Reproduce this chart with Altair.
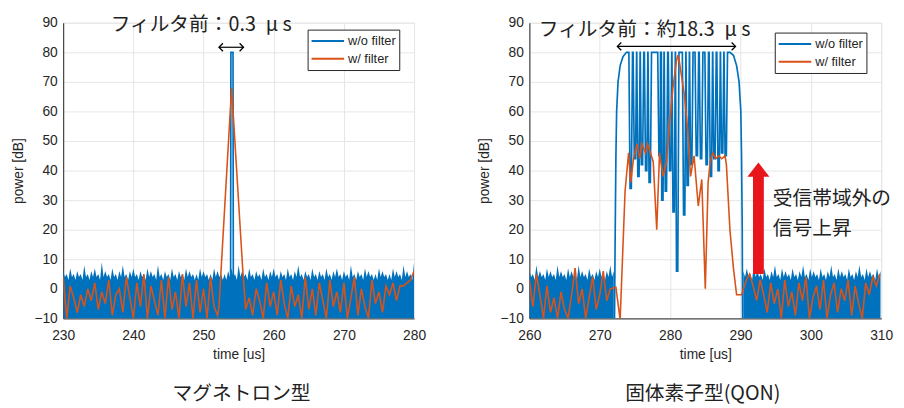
import altair as alt
import pandas as pd

SERIES = ["w/o filter", "w/ filter"]
COLORS = ["#0072BD", "#D95319"]
AXIS_FONT = "Liberation Sans"
JP_FONT = "Noto Sans CJK JP"
INK = "#262626"
FLOOR = -10

# ---------------- left panel : magnetron ----------------
L_XDOM = [230, 280]
# upper edge of the dense blue noise band (w/o filter), 0.25 us apart
BL_T0, BL_DT = 230.0, 0.25
BL_TOP = [
    6, 4, 5, 3, 7, 4, 5, 3, 6, 4, 5, 3, 8, 4, 5, 3, 6, 4, 7, 4,
    5, 3, 9, 4, 6, 4, 5, 3, 7, 4, 5, 3, 6, 4, 8, 4, 5, 3, 6, 4,
    7, 4, 5, 3, 6, 4, 5, 3, 7, 4, 6, 4, 5, 3, 8, 4, 5, 3, 6, 4,
    5, 3, 7, 4, 5, 3, 6, 4, 5, 3, 7, 4, 6, 4, 5, 3, 5, 3, 7, 4,
    6, 4, 5, 3, 5, 3, 7, 4, 6, 4, 5, 3, 5, 3, 6, 4, 7, 4, 5, 3,
    8, 4, 6, 4, 5, 3, 7, 4, 5, 3, 6, 4, 5, 3, 7, 4, 5, 3, 6, 4,
    7, 4, 5, 3, 6, 4, 5, 3, 7, 4, 5, 3, 6, 4, 8, 4, 5, 3, 6, 4,
    5, 3, 7, 4, 5, 3, 6, 4, 5, 3, 7, 4, 5, 3, 6, 4, 7, 4, 5, 3,
    6, 4, 5, 3, 8, 4, 5, 3, 6, 4, 5, 3, 7, 4, 6, 4, 5, 3, 5, 3,
    7, 4, 6, 4, 5, 3, 5, 3, 7, 4, 6, 4, 5, 3, 8, 4, 6, 4, 5, 3,
    9,
]
BL_PULSE_T = [253.85, 253.9, 254.2, 254.25]
BL_PULSE_V = [-10, 80, 80, -10]

OL_T0, OL_DT = 230.0, 0.5
OL_NOISE = [
    4, -10, 1, -3, -8, -2, -6, 0, -4, 2, -7, -1, -5, 3, -9, -2, 0, -8, 4, -3,
    -10, 2, -6, 5, -10, 1, -4, -9, 3, -10, 4, -7, -1, -10, 5, -6, 2, -10, 3, -8,
    0, -10, 4, -6, -9, -5, -7, -2, -10, 1, -5, -1, -7, -3, -9, 0, -4, -10, 2, -6,
    -1, -9, 3, -5, -10, 1, -6, -2, -10, 4, -7, 0, -9, 2, -4, -10, 3, -6, -1, -8,
    2, -10, -3, 4, -9, 0, -6, -10, 3, -5, -1, -8, 1, -2, 2, -4, 1, 1, 2, 3,
    6,
]
OL_PULSE_T = [252.2, 254.0, 255.6]
OL_PULSE_V = [-6, 68, 6]

# ---------------- right panel : solid state (QON) ----------------
R_XDOM = [260, 310]
BR_DT = 0.25
BR1_T0 = 260.0
BR1_TOP = [
    6, 4, 5, 3, 8, 4, 6, 4, 5, 3, 7, 4, 6, 4, 5, 3, 8, 4, 6, 4,
    5, 3, 7, 4, 6, 4, 5, 3, 8, 4, 6, 4, 5, 3, 7, 4, 5, 3, 6, 4,
    7, 4, 5, 3, 6, 4, 8, 4, 6,
]
BR2_T0 = 290.4
BR2_TOP = [
    6, 4, 7, 4, 5, 3, 8, 4, 6, 4, 5, 3, 7, 4, 5, 3, 6, 4, 8, 4,
    5, 3, 7, 4, 6, 4, 5, 3, 7, 4, 5, 3, 6, 4, 8, 4, 5, 3, 7, 4,
    6, 4, 5, 3, 7, 4, 5, 3, 6, 4, 8, 4, 5, 3, 7, 4, 6, 4, 5, 3,
    7, 4, 5, 3, 6, 4, 8, 4, 5, 3, 7, 4, 6, 4, 5, 3, 7, 4, 6,
]
BR_RISE_T = [272.1, 272.2, 272.3, 272.4, 272.6, 272.9, 273.3, 273.8]
BR_RISE_V = [-10, 20, 45, 60, 70, 75.5, 78.5, 80]
BR_FALL_T = [288.5, 289.0, 289.45, 289.8, 290.05, 290.15, 290.25, 290.3]
BR_FALL_V = [80, 79, 75.5, 70, 60, 45, 20, -10]
SPIKE_T = [274.4, 275.0, 275.5, 276.0, 276.6, 277.1, 278.5, 278.9, 279.4, 280.0,
           280.5, 281.0, 282.0, 282.5, 283.0, 283.8, 284.4, 285.2, 285.8, 286.3,
           286.9, 287.4, 287.9]
SPIKE_D = [34, 44, 38, 42, 40, 36, 45, 30, 33, 40,
           26, 6, 25, 35, 42, 45, 44, 42, 38, 44,
           40, 46, 45]
SPIKE_TOP_HALF, SPIKE_BOT_HALF, PULSE_LEVEL = 0.26, 0.09, 80

OR_DT = 0.5
OR1_T0 = 260.0
OR1_NOISE = [3, -6, 5, -2, -10, 1, -8, -3, -10, -1, -7, -10, -2, 7, -5, 0,
             -10, -3, 4, -7, -2, 6, -4, 0]
OR2_T0 = 291.3
OR2_NOISE = [5, 1, -4, 3, -2, -8, 2, -5, 0, -10, 3, -6, -1, -9, 2, -4, 4, -10,
             -3, 1, -7, 3, -10, -2, 2, -8, 0, -4, 3, -9, 1, -5, -10, 2, -2, 4, 1, 5]
OR_PULSE_T = [272.3, 272.9, 273.6, 274.1, 274.4, 274.8, 275.3, 275.7, 276.0, 276.5,
              276.8, 277.2, 277.6, 278.1, 278.5, 279.0, 279.5, 279.9, 280.4, 280.9,
              281.1, 281.3, 282.0, 282.5, 282.9, 283.4, 284.0, 284.5, 285.0, 285.4,
              285.7, 286.05, 286.5, 286.9, 287.35, 287.8, 288.0, 288.5, 289.0, 289.45,
              290.15, 290.85]
OR_PULSE_V = [0.5, -10.5, 33, 46, 36, 44, 49, 44, 49, 46,
              49, 46, 43, 20, 46, 38, 43, 55, 68, 77,
              79, 77, 66, 54, 38, 45, 28, 37, 0, 36,
              43, 46, 44, 45, 44, 45, 42, 20, 7, -2,
              -2, 3]

# annotations
L_ANN = "フィルタ前：0.3\u2002μ s"
R_ANN = "フィルタ前：約18.3\u2002μ s"
L_SPAN = (252.2, 255.7, 81.7)
R_SPAN = (272.5, 289.3, 82.0)
L_CAPTION = "マグネトロン型"
R_CAPTION = "固体素子型(QON)"
RISE_TEXT = ["受信帯域外の", "信号上昇"]
RISE_TEXT_POS = (294.6, [30.3, 20.3])
RISE_ARROW = (292.55, 5, 38.5, 40.3)
ARROW_RED = "#e8161b"


# ---------------- helpers ----------------
def sampled(t0, dt, vals):
    return [(round(t0 + i * dt, 4), v) for i, v in enumerate(vals)]


def frame(points, series):
    pts = sorted(points, key=lambda q: q[0])
    return pd.DataFrame({"t": [p[0] for p in pts], "v": [p[1] for p in pts],
                         "base": FLOOR, "i": list(range(len(pts))),
                         "series": series})


def split(points, lo, hi):
    return [p for p in points if p[0] < lo], [p for p in points if p[0] > hi]


# left data
left_bands = [frame(sampled(BL_T0, BL_DT, BL_TOP), SERIES[0])]
left_pulse = frame(list(zip(BL_PULSE_T, BL_PULSE_V)), SERIES[0])
ol_before, ol_after = split(sampled(OL_T0, OL_DT, OL_NOISE), OL_PULSE_T[0], OL_PULSE_T[-1])
left_orange = frame(ol_before + list(zip(OL_PULSE_T, OL_PULSE_V)) + ol_after, SERIES[1])

# right data
pulse = list(zip(BR_RISE_T, BR_RISE_V)) + list(zip(BR_FALL_T, BR_FALL_V))
for t, d in zip(SPIKE_T, SPIKE_D):
    pulse += [(t - SPIKE_TOP_HALF, PULSE_LEVEL), (t - SPIKE_BOT_HALF, d),
              (t + SPIKE_BOT_HALF, d), (t + SPIKE_TOP_HALF, PULSE_LEVEL)]
right_bands = [frame(sampled(BR1_T0, BR_DT, BR1_TOP), SERIES[0]),
               frame(sampled(BR2_T0, BR_DT, BR2_TOP), SERIES[0])]
right_pulse = frame(pulse, SERIES[0])
right_orange = frame(sampled(OR1_T0, OR_DT, OR1_NOISE) + list(zip(OR_PULSE_T, OR_PULSE_V))
                     + sampled(OR2_T0, OR_DT, OR2_NOISE), SERIES[1])


def panel(bands, blue_pulse, orange_df, xdom, width, ann, ann_xy, span,
          legend_xy, caption, caption_x, extra=None):
    x = alt.X("t:Q", title="time [us]",
              scale=alt.Scale(domain=xdom, nice=False, zero=False),
              axis=alt.Axis(values=list(range(xdom[0], xdom[1] + 1, 10)),
                            labelPadding=10, titlePadding=6, format="d",
                            labelFlush=False, labelOverlap=False))
    y = alt.Y("v:Q", title="power [dB]", stack=None,
              scale=alt.Scale(domain=[-10, 90], nice=False, zero=False),
              axis=alt.Axis(values=list(range(-10, 91, 10)),
                            labelPadding=6, titlePadding=9,
                            labelFlush=False, labelOverlap=False))
    color = alt.Color(
        "series:N",
        scale=alt.Scale(domain=SERIES, range=COLORS),
        legend=alt.Legend(title=None, orient="none",
                          legendX=legend_xy[0], legendY=legend_xy[1],
                          symbolType="stroke", symbolSize=1089,
                          symbolStrokeWidth=2, clipHeight=17,
                          labelFont=AXIS_FONT, labelFontSize=13,
                          labelColor=INK, labelOffset=3, padding=3,
                          rowPadding=1, fillColor="white",
                          strokeColor=INK),
    )
    band_layers = [
        alt.Chart(b).mark_area(clip=True, color=COLORS[0], opacity=1).encode(
            x=x, y=y, y2="base:Q")
        for b in bands
    ]
    bpulse = alt.Chart(blue_pulse).mark_line(clip=True, strokeWidth=1.7).encode(
        x=x, y=y, color=color, order="i:Q")
    orange = alt.Chart(orange_df).mark_line(clip=True, strokeWidth=1.6).encode(
        x=x, y=y, color=color, order="i:Q")

    span_df = pd.DataFrame({"t": [span[0]], "t2": [span[1]], "v": [span[2]]})
    rule = alt.Chart(span_df).mark_rule(color="black", strokeWidth=1.2).encode(
        x=x, x2="t2:Q", y=y)
    left_head = alt.Chart(span_df).mark_point(
        shape="M1,-1L0,0L1,1", size=64, filled=False, color="black",
        strokeWidth=1.3, opacity=1).encode(x=x, y=y)
    right_head = alt.Chart(span_df).mark_point(
        shape="M-1,-1L0,0L-1,1", size=64, filled=False, color="black",
        strokeWidth=1.3, opacity=1).encode(x="t2:Q", y=y)

    ann_df = pd.DataFrame({"label": [ann]})
    ann_text = alt.Chart(ann_df).mark_text(
        font=JP_FONT, fontSize=20, color="#222222", baseline="middle",
        align="center").encode(x=alt.value(ann_xy[0]), y=alt.value(ann_xy[1]),
                               text="label:N")
    cap_df = pd.DataFrame({"label": [caption]})
    cap_text = alt.Chart(cap_df).mark_text(
        font=JP_FONT, fontSize=20, color="#222222", baseline="middle",
        align="center").encode(x=alt.value(caption_x), y=alt.value(377),
                               text="label:N")
    layers = [bpulse] + band_layers + [orange, rule, left_head, right_head,
                                       ann_text, cap_text]
    if extra:
        layers += extra(x, y)
    return alt.layer(*layers).properties(width=width, height=300)


def rise_layers(x, y):
    t, v0, v1, vh = RISE_ARROW
    shaft_df = pd.DataFrame({"t": [t], "v": [v0], "v2": [v1]})
    head_df = pd.DataFrame({"t": [t], "v": [vh]})
    shaft = alt.Chart(shaft_df).mark_rule(color=ARROW_RED, strokeWidth=11).encode(
        x=x, y=y, y2="v2:Q")
    head = alt.Chart(head_df).mark_point(
        shape="M-1,0.65L0,-0.65L1,0.65Z", size=500, filled=True,
        color=ARROW_RED, opacity=1).encode(x=x, y=y)
    tdf = pd.DataFrame({"t": [RISE_TEXT_POS[0]] * 2, "v": RISE_TEXT_POS[1],
                        "label": RISE_TEXT})
    txt = alt.Chart(tdf).mark_text(
        font=JP_FONT, fontSize=20, color="#222222", align="left",
        baseline="middle").encode(x=x, y=y, text="label:N")
    return [shaft, head, txt]


left = panel(left_bands, left_pulse, left_orange, L_XDOM, 356, L_ANN,
             (140, 2), L_SPAN, (248, 7), L_CAPTION, 181)
right = panel(right_bands, right_pulse, right_orange, R_XDOM, 357, R_ANN,
              (117, 7), R_SPAN, (249, 10), R_CAPTION, 176, extra=rise_layers)

chart = alt.hconcat(left, right, spacing=117, bounds="flush").resolve_legend(
    color="independent"
).properties(
    padding={"left": 2, "top": 3, "right": 2, "bottom": 2}
).configure_view(stroke="#e6e6e6").configure_axis(
    labelFont=AXIS_FONT, labelFontSize=14, labelColor=INK,
    titleFont=AXIS_FONT, titleFontSize=14, titleFontWeight="normal",
    titleColor=INK, gridColor="#e6e6e6", domainColor=INK, ticks=False,
)

chart.save("out.html", embed_options={"renderer": "svg", "actions": False})
